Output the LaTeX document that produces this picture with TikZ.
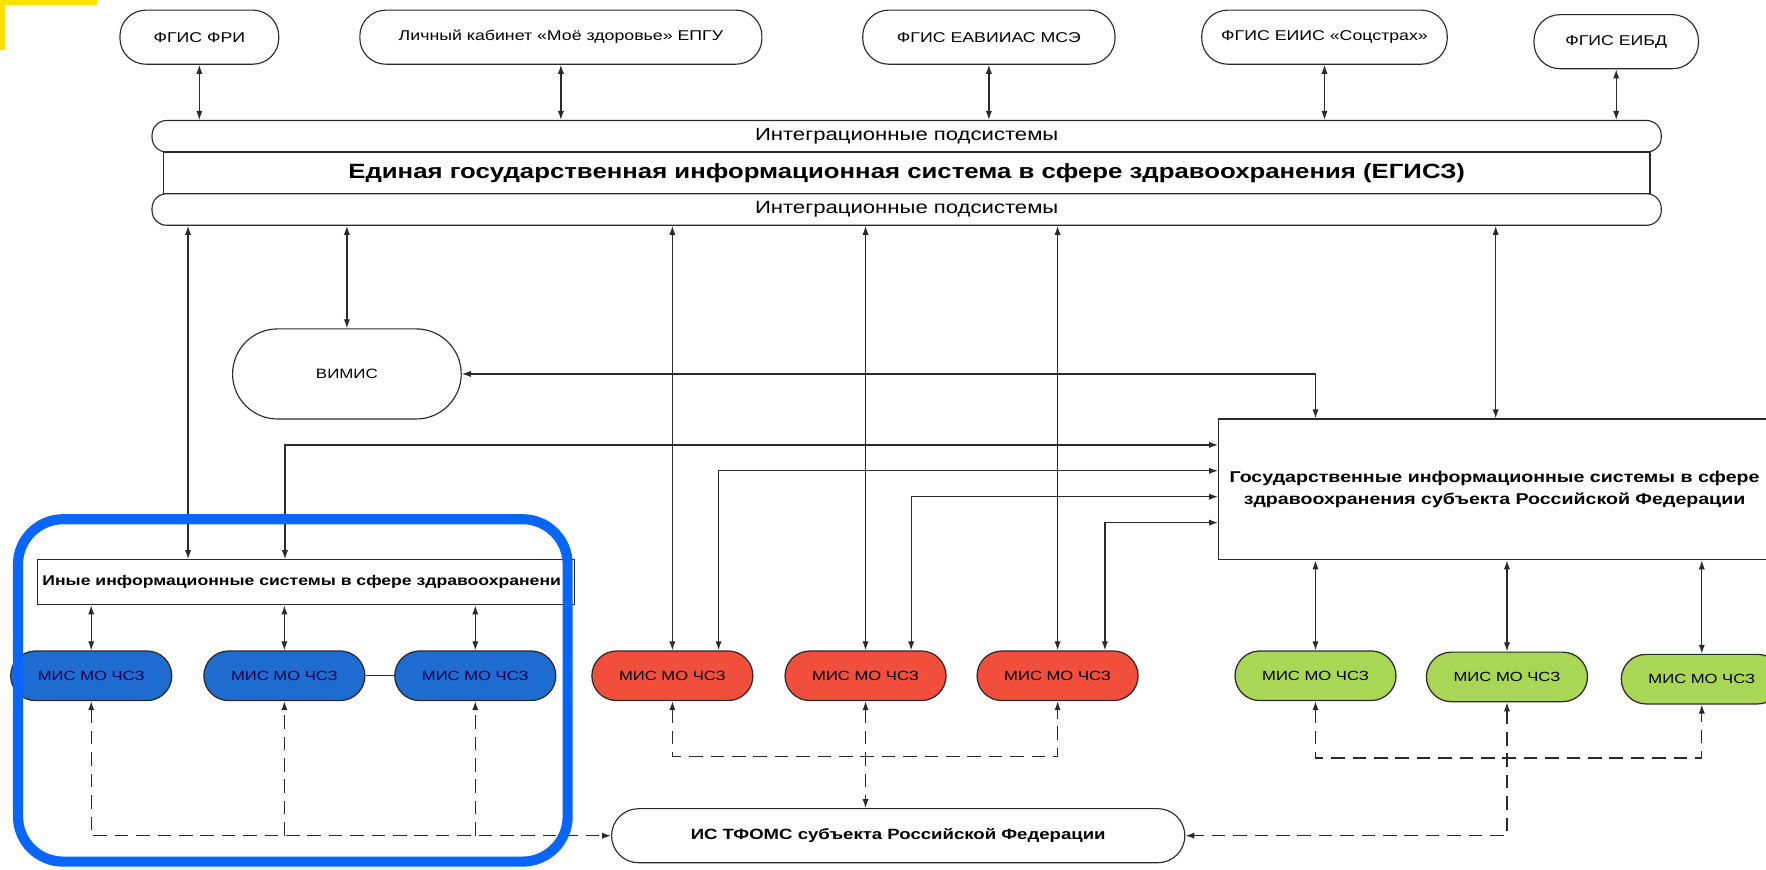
\documentclass[tikz,border=0pt]{standalone}
\usepackage{fontspec}
\setmainfont{Liberation Sans}[FakeStretch=1.25]
\usetikzlibrary{arrows.meta}
\definecolor{misblue}{HTML}{1E6CCF}
\definecolor{misred}{HTML}{F24E3C}
\definecolor{misgreen}{HTML}{AAD655}
\definecolor{frameblue}{HTML}{0866FF}
\definecolor{hlyellow}{HTML}{FFE100}
\definecolor{ink}{HTML}{2A2A2A}
\begin{document}
\begin{tikzpicture}[x=1pt,y=-1pt,
  >={Latex[length=8pt,width=5.5pt]},
  ln/.style={draw=ink, line width=1.1pt},
  dsh/.style={ln, dash pattern=on 12pt off 7pt},
  stad/.style={draw=ink, line width=1pt, rectangle, rounded corners=#1, inner sep=0pt, align=center},
  topn/.style={stad=23pt, minimum height=48pt, font=\fontsize{12.6}{14}\selectfont},
  bar/.style={stad=13pt, minimum height=28pt, minimum width=1340pt, font=\fontsize{15.7}{17}\selectfont},
  mis/.style={draw=ink, line width=1.1pt, rectangle, rounded corners=22pt, minimum height=44pt, minimum width=143pt, inner sep=0pt, font=\fontsize{11.8}{14}\selectfont},
]
\useasboundingbox (0,0) rectangle (1568,772);
\fill[white] (0,0) rectangle (1568,772);

% helper coordinates
\coordinate (xa) at (167,0);
\coordinate (xg) at (1328,0);
\coordinate (xv) at (1168,0);
\coordinate (xi) at (253,0);
\coordinate (xr1) at (638,0);
\coordinate (xr2) at (809,0);
\coordinate (xr3) at (981,0);
\coordinate (y1) at (0,395);
\coordinate (y2) at (0,418);
\coordinate (y3) at (0,441);
\coordinate (y4) at (0,464);
\coordinate (yR) at (0,672);
\coordinate (yG) at (0,673);

% top systems
\node[topn, minimum width=141pt] (fri) at (177,33) {ФГИС ФРИ};
\node[topn, minimum width=357pt] (lk) at (498,33) {Личный кабинет «Моё здоровье» ЕПГУ};
\node[topn, minimum width=224pt] (mse) at (878,33) {ФГИС ЕАВИИАС МСЭ};
\node[topn, minimum width=218pt] (fss) at (1176,33) {ФГИС ЕИИС «Соцстрах»};
\node[topn, minimum width=146pt] (eibd) at (1435,37) {ФГИС ЕИБД};

% EGISZ block
\node[draw=ink, line width=1pt, rectangle, minimum width=1320pt, minimum height=37pt, inner sep=0pt,
      font=\fontsize{18.3}{20}\selectfont\bfseries] (egisz) at (805,153.5)
      {Единая государственная информационная система в сфере здравоохранения (ЕГИСЗ)};
\node[bar] (ib1) at (805,121) {Интеграционные подсистемы};
\node[bar] (ib2) at (805,186) {Интеграционные подсистемы};

% middle nodes
\node[stad=40pt, minimum width=203pt, minimum height=80pt, font=\fontsize{12}{14}\selectfont] (vimis) at (308,332) {ВИМИС};
\node[draw=ink, line width=1pt, rectangle, minimum width=490pt, minimum height=125pt, inner sep=0pt, align=center,
      font=\fontsize{13.9}{19}\selectfont\bfseries] (gis) at (1327,434.5)
      {Государственные информационные системы в сфере\\здравоохранения субъекта Российской Федерации};
\node[draw=ink, line width=1pt, rectangle, minimum height=40pt, minimum width=477pt, inner sep=0pt] (inye) at (271.5,517) {};
\node[anchor=west, inner sep=0pt, font=\fontsize{12.5}{14}\selectfont\bfseries] (inyeT) at ([xshift=5pt]inye.west)
      {Иные информационные системы в сфере здравоохранени};

% MIS nodes
\node[mis, fill=misblue, text=black!70!blue] (b1) at (81,600) {МИС МО ЧСЗ};
\node[mis, fill=misblue, text=black!70!blue] (b2) at (252.5,600) {МИС МО ЧСЗ};
\node[mis, fill=misblue, text=black!70!blue] (b3) at (422,600) {МИС МО ЧСЗ};
\node[mis, fill=misred] (r1) at (597,600) {МИС МО ЧСЗ};
\node[mis, fill=misred] (r2) at (768.5,600) {МИС МО ЧСЗ};
\node[mis, fill=misred] (r3) at (939,600) {МИС МО ЧСЗ};
\node[mis, fill=misgreen] (g1) at (1168,600) {МИС МО ЧСЗ};
\node[mis, fill=misgreen] (g2) at (1338,601) {МИС МО ЧСЗ};
\node[mis, fill=misgreen] (g3) at (1511,603) {МИС МО ЧСЗ};

% TFOMS
\node[stad=24pt, minimum width=509pt, minimum height=48pt, font=\fontsize{13.2}{14}\selectfont\bfseries] (tfoms) at (797.5,742)
      {ИС ТФОМС субъекта Российской Федерации};

% top connectors
\foreach \n in {fri,lk,mse,fss,eibd}
  \draw[ln,<->] (\n.south) -- (\n.south |- ib1.north);

% connectors from lower integration bar
\draw[ln,<->] (ib2.south -| xa) -- (inye.north -| xa);
\draw[ln,<->] (ib2.south -| vimis.north) -- (vimis.north);
\draw[ln,<->] (ib2.south -| r1.north) -- (r1.north);
\draw[ln,<->] (ib2.south -| r2.north) -- (r2.north);
\draw[ln,<->] (ib2.south -| r3.north) -- (r3.north);
\draw[ln,<->] (ib2.south -| xg) -- (gis.north -| xg);

% VIMIS - GIS
\draw[ln,<->] (vimis.east) -| (gis.north -| xv);

% feeds into GIS
\draw[ln,<->] (inye.north -| xi) |- (gis.west |- y1);
\draw[ln,<->] (r1.north -| xr1) |- (gis.west |- y2);
\draw[ln,<->] (r2.north -| xr2) |- (gis.west |- y3);
\draw[ln,<->] (r3.north -| xr3) |- (gis.west |- y4);

% Inye - blue MIS
\draw[ln,<->] (inye.south -| b1.north) -- (b1.north);
\draw[ln,<->] (inye.south -| b2.north) -- (b2.north);
\draw[ln,<->] (inye.south -| b3.north) -- (b3.north);
\draw[ln] (b2.east) -- (b3.west);

% GIS - green MIS
\draw[ln,<->] (gis.south -| g1.north) -- (g1.north);
\draw[ln,<->] (gis.south -| g2.north) -- (g2.north);
\draw[ln,<->] (gis.south -| g3.north) -- (g3.north);

% dashed: blue group
\draw[dsh,<->] (b1.south) |- (tfoms.west);
\draw[dsh,->] (b2.south |- tfoms.west) -- (b2.south);
\draw[dsh,->] (b3.south |- tfoms.west) -- (b3.south);

% dashed: red group
\draw[dsh,<->] (r1.south) |- (r3.south |- yR) -- (r3.south);
\draw[dsh,<->] (r2.south) -- (r2.south |- tfoms.north);

% dashed: green group
\draw[dsh,<->] (g1.south) |- (g3.south |- yG) -- (g3.south);
\draw[dsh,<->] (g2.south) |- (tfoms.east);

% highlight frames
\draw[frameblue, line width=9pt, rounded corners=40pt] (16,461) rectangle (504,765);
\draw[hlyellow, line width=4pt] (86,2) -- (2,2) -- (2,44);
\end{tikzpicture}
\end{document}
